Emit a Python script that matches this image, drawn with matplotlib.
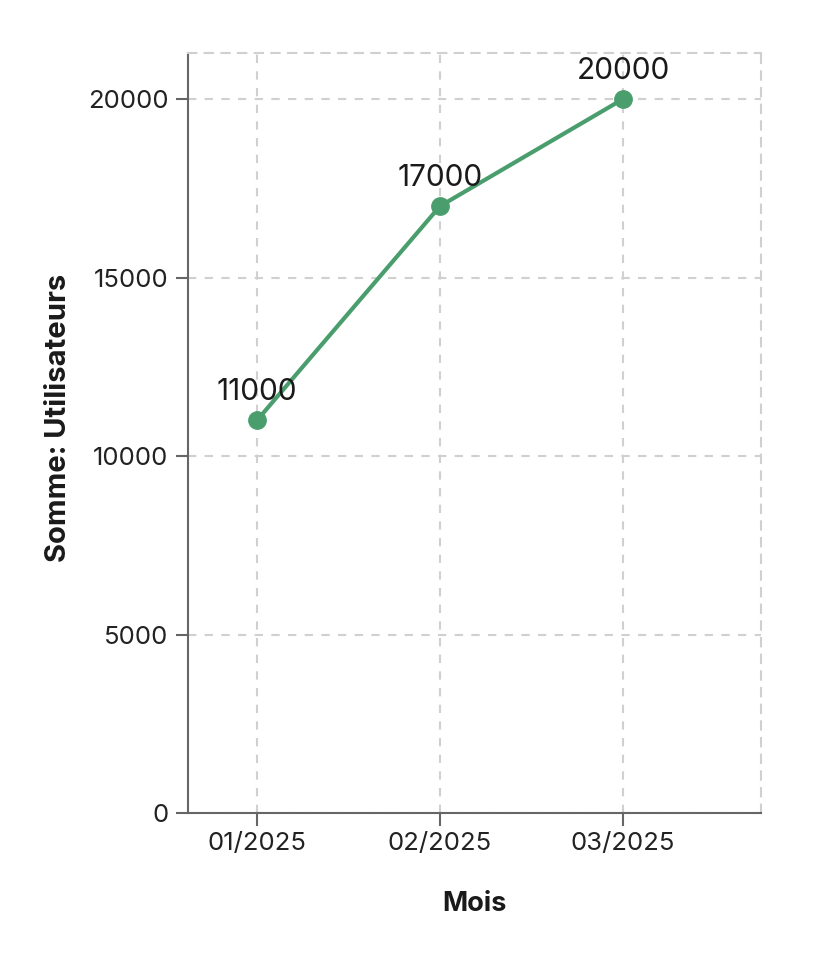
import matplotlib
matplotlib.use("Agg")
import matplotlib.pyplot as plt

months = ["01/2025", "02/2025", "03/2025"]
users = [11000, 17000, 20000]
yticks = [0, 5000, 10000, 15000, 20000]

plt.rcParams['font.family'] = ['Inter', 'DejaVu Sans']

fig = plt.figure(figsize=(8.22, 9.64), dpi=100)
ax = fig.add_axes([188/822, 1-813/964, (761-188)/822, (813-53)/964])

x = list(range(len(months)))
green = "#4a9e6e"
ax.plot(x, users, color=green, lw=3, marker='o', ms=12.5, zorder=3, clip_on=False)
for xi, v in zip(x, users):
    ax.annotate(str(v), (xi, v), xytext=(0, 10), textcoords='offset points',
                ha='center', va='bottom', fontsize=21.5, color='#1a1a1a')

ax.set_xlim(-0.377, 2.754)
ax.set_ylim(0, 21290)
ax.set_xticks(x)
ax.set_xticklabels(months)
ax.set_yticks(yticks)
ax.set_yticklabels([str(t) for t in yticks])

ax.grid(True, color='#d0d0d0', linestyle=(0, (4, 4)), linewidth=1.5)
ax.set_axisbelow(True)
for s in ['top', 'right']:
    ax.spines[s].set_color('#d0d0d0')
    ax.spines[s].set_linestyle((0, (4, 4)))
    ax.spines[s].set_linewidth(1.5)
for s in ['left', 'bottom']:
    ax.spines[s].set_color('#666666')
    ax.spines[s].set_linewidth(1.5)

ax.tick_params(axis='both', length=9, width=1.5, color='#666666',
               labelsize=18.5, labelcolor='#222222', pad=5)

ax.set_xlabel("Mois", fontsize=19.5, fontweight='bold', color='#1a1a1a')
ax.set_ylabel("Somme: Utilisateurs", fontsize=21, fontweight='bold', color='#1a1a1a')
ax.xaxis.set_label_coords(0.5, -0.102)
ax.yaxis.set_label_coords(-0.2024, 0.52)

fig.savefig("out.png", dpi=100)
